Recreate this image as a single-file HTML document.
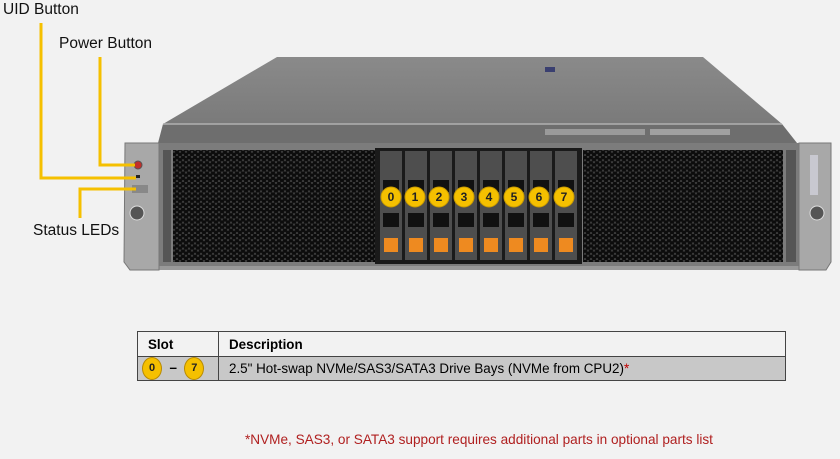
<!DOCTYPE html>
<html><head><meta charset="utf-8"><style>
html,body{margin:0;padding:0;background:#f2f2f2;}
body{width:840px;height:459px;position:relative;overflow:hidden;font-family:"Liberation Sans",Arial,sans-serif;}
.lbl{position:absolute;font-size:15.5px;color:#111;white-space:nowrap;}
table{position:absolute;left:137px;top:331px;width:649px;border-collapse:collapse;font-size:13.4px;}
td{border:1px solid #444;padding:0 10px;}
.n{display:inline-block;width:18px;height:21px;border-radius:50%;background:#f5c000;border:1px solid #b88a00;text-align:center;line-height:21px;font-size:11px;font-weight:bold;color:#222;vertical-align:middle;}
</style></head><body>
<svg width="840" height="459" style="position:absolute;left:0;top:0">
<defs>
<pattern id="hex" width="6" height="5.2" patternUnits="userSpaceOnUse">
<rect width="6" height="5.2" fill="#3a3a3a"/>
<circle cx="3" cy="1.3" r="2" fill="#0c0c0c"/>
<circle cx="0" cy="3.9" r="2" fill="#0c0c0c"/>
<circle cx="6" cy="3.9" r="2" fill="#0c0c0c"/>
</pattern>
<linearGradient id="lid" x1="0" y1="0" x2="0" y2="1">
<stop offset="0" stop-color="#8a8a8a"/><stop offset="1" stop-color="#7a7a7a"/></linearGradient>
</defs>
<polygon points="277,57 703,57 782,124 163,124" fill="url(#lid)"/>
<rect x="545" y="67" width="10" height="5" fill="#3a3f70"/>
<polygon points="163,124 782,124 797,143 158,143" fill="#6e6e6e"/>
<line x1="163" y1="124" x2="782" y2="124" stroke="#b0b0b0" stroke-width="1.5"/>
<rect x="545" y="129" width="100" height="6" fill="#9a9a9a"/>
<rect x="650" y="129" width="80" height="6" fill="#a0a0a0"/>
<rect x="158" y="143" width="641" height="127" fill="#7c7c7c"/>
<rect x="158" y="266" width="641" height="4" fill="#999"/>
<rect x="173" y="150" width="202" height="112" fill="url(#hex)"/>
<rect x="583" y="150" width="200" height="112" fill="url(#hex)"/>
<rect x="375" y="148" width="207" height="116" fill="#1a1a1a"/>
<rect x="163" y="150" width="8" height="112" fill="#555"/>
<rect x="786" y="150" width="10" height="112" fill="#555"/>
<path d="M125,143 L159,143 L159,270 L130,270 L124,262 Z" fill="#a8a8a8" stroke="#777"/>
<path d="M799,143 L831,143 L831,262 L826,270 L799,270 Z" fill="#a8a8a8" stroke="#777"/>
<circle cx="138" cy="165" r="4" fill="#c0302a" stroke="#555"/>
<rect x="136" y="175" width="4" height="3" fill="#222"/>
<rect x="132" y="185" width="16" height="8" fill="#888"/>
<circle cx="137" cy="213" r="7" fill="#555" stroke="#ddd"/>
<circle cx="817" cy="213" r="7" fill="#555" stroke="#ddd"/>
<rect x="810" y="155" width="8" height="40" fill="#c8c8d0"/>
<g fill="#4e4e4e">
<rect x="380" y="151" width="22" height="109"/><rect x="405" y="151" width="22" height="109"/>
<rect x="430" y="151" width="22" height="109"/><rect x="455" y="151" width="22" height="109"/>
<rect x="480" y="151" width="22" height="109"/><rect x="505" y="151" width="22" height="109"/>
<rect x="530" y="151" width="22" height="109"/><rect x="555" y="151" width="22" height="109"/>
</g>
<g fill="#111">
<rect x="383" y="180" width="16" height="12"/><rect x="383" y="213" width="16" height="14"/>
<rect x="408" y="180" width="16" height="12"/><rect x="408" y="213" width="16" height="14"/>
<rect x="433" y="180" width="16" height="12"/><rect x="433" y="213" width="16" height="14"/>
<rect x="458" y="180" width="16" height="12"/><rect x="458" y="213" width="16" height="14"/>
<rect x="483" y="180" width="16" height="12"/><rect x="483" y="213" width="16" height="14"/>
<rect x="508" y="180" width="16" height="12"/><rect x="508" y="213" width="16" height="14"/>
<rect x="533" y="180" width="16" height="12"/><rect x="533" y="213" width="16" height="14"/>
<rect x="558" y="180" width="16" height="12"/><rect x="558" y="213" width="16" height="14"/>
</g>
<g fill="#ee8a20">
<rect x="384" y="238" width="14" height="14"/><rect x="409" y="238" width="14" height="14"/>
<rect x="434" y="238" width="14" height="14"/><rect x="459" y="238" width="14" height="14"/>
<rect x="484" y="238" width="14" height="14"/><rect x="509" y="238" width="14" height="14"/>
<rect x="534" y="238" width="14" height="14"/><rect x="559" y="238" width="14" height="14"/>
</g>
<g fill="#f5c000" stroke="#c89a00" stroke-width="1">
<circle cx="391" cy="197" r="10"/><circle cx="415" cy="197" r="10"/><circle cx="439" cy="197" r="10"/><circle cx="464" cy="197" r="10"/>
<circle cx="489" cy="197" r="10"/><circle cx="514" cy="197" r="10"/><circle cx="539" cy="197" r="10"/><circle cx="564" cy="197" r="10"/>
</g>
<g font-family="Liberation Sans,Arial,sans-serif" font-size="12" font-weight="bold" fill="#222" text-anchor="middle">
<text x="391" y="201">0</text><text x="415" y="201">1</text><text x="439" y="201">2</text><text x="464" y="201">3</text>
<text x="489" y="201">4</text><text x="514" y="201">5</text><text x="539" y="201">6</text><text x="564" y="201">7</text>
</g>
<g fill="none" stroke="#f5c000" stroke-width="3">
<polyline points="41,23 41,178 136,178"/>
<polyline points="100,57 100,165 135,165"/>
<polyline points="80,218 80,189 136,189"/>
</g>
</svg>
<div class="lbl" style="left:3px;top:1px">UID Button</div>
<div class="lbl" style="left:59px;top:35px">Power Button</div>
<div class="lbl" style="left:33px;top:222px">Status LEDs</div>
<table>
<tr style="height:25px;background:#f2f2f2;font-weight:bold"><td style="width:60px">Slot</td><td>Description</td></tr>
<tr style="height:23px;background:#c8c8c8"><td style="padding:0 4px;font-weight:bold"><span class="n">0</span> &nbsp;– &nbsp;<span class="n">7</span></td><td>2.5" Hot-swap NVMe/SAS3/SATA3 Drive Bays (NVMe from CPU2)<span style="color:#c00000">*</span></td></tr>
</table>
<div class="lbl" style="left:245px;top:432px;font-size:13.6px;color:#b02020">*NVMe, SAS3, or SATA3 support requires additional parts in optional parts list</div>
</body></html>
